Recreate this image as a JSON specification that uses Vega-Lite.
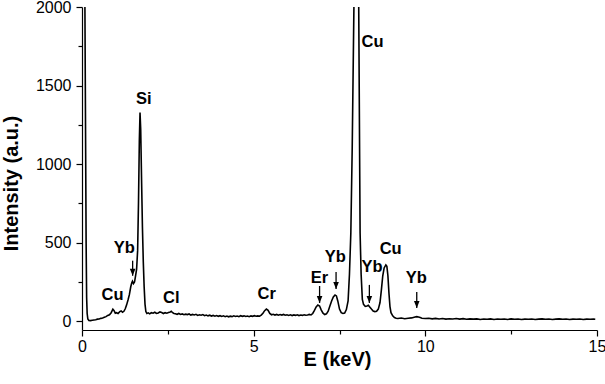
{
  "$schema": "https://vega.github.io/schema/vega-lite/v6.json",
  "width": 515,
  "height": 323,
  "autosize": "none",
  "padding": {"left": 82, "top": 7, "right": 8, "bottom": 54},
  "config": {
    "view": {"stroke": null},
    "font": "Liberation Sans",
    "axis": {"grid": false, "domainColor": "black", "domainWidth": 1.2, "tickColor": "black", "tickWidth": 1.2, "labelColor": "black", "titleColor": "black", "labelFont": "Liberation Sans", "titleFont": "Liberation Sans"}
  },
  "datasets": {
    "spectrum": [
      {"E": 0.03, "I": 9000}, {"E": 0.085, "I": 2000}, {"E": 0.12, "I": 500}, {"E": 0.135, "I": 150}, {"E": 0.15, "I": 50}, {"E": 0.17, "I": 15},
      {"E": 0.2, "I": 6}, {"E": 0.25, "I": 5}, {"E": 0.3, "I": 7}, {"E": 0.35, "I": 9}, {"E": 0.4, "I": 10}, {"E": 0.45, "I": 14},
      {"E": 0.5, "I": 15}, {"E": 0.55, "I": 19}, {"E": 0.6, "I": 22}, {"E": 0.65, "I": 26}, {"E": 0.7, "I": 30}, {"E": 0.75, "I": 38},
      {"E": 0.8, "I": 42}, {"E": 0.85, "I": 55}, {"E": 0.9, "I": 77}, {"E": 0.93, "I": 70}, {"E": 0.97, "I": 52}, {"E": 1.0, "I": 55},
      {"E": 1.05, "I": 50}, {"E": 1.1, "I": 62}, {"E": 1.14, "I": 66}, {"E": 1.18, "I": 58}, {"E": 1.22, "I": 64}, {"E": 1.26, "I": 80},
      {"E": 1.3, "I": 105}, {"E": 1.34, "I": 136}, {"E": 1.38, "I": 170}, {"E": 1.42, "I": 220}, {"E": 1.45, "I": 245}, {"E": 1.47, "I": 255},
      {"E": 1.5, "I": 240}, {"E": 1.53, "I": 250}, {"E": 1.56, "I": 290}, {"E": 1.59, "I": 330}, {"E": 1.62, "I": 450}, {"E": 1.645, "I": 750},
      {"E": 1.67, "I": 1150}, {"E": 1.69, "I": 1328}, {"E": 1.71, "I": 1220}, {"E": 1.735, "I": 900}, {"E": 1.76, "I": 600}, {"E": 1.785, "I": 380},
      {"E": 1.81, "I": 220}, {"E": 1.835, "I": 110}, {"E": 1.86, "I": 62}, {"E": 1.89, "I": 50}, {"E": 1.93, "I": 54}, {"E": 1.97, "I": 48},
      {"E": 2.02, "I": 55}, {"E": 2.07, "I": 52}, {"E": 2.12, "I": 58}, {"E": 2.17, "I": 50}, {"E": 2.22, "I": 53}, {"E": 2.27, "I": 60},
      {"E": 2.32, "I": 56}, {"E": 2.37, "I": 50}, {"E": 2.42, "I": 55}, {"E": 2.47, "I": 52}, {"E": 2.52, "I": 56}, {"E": 2.57, "I": 60},
      {"E": 2.6, "I": 64}, {"E": 2.64, "I": 55}, {"E": 2.68, "I": 50}, {"E": 2.72, "I": 48}, {"E": 2.77, "I": 45}, {"E": 2.82, "I": 50},
      {"E": 2.87, "I": 44}, {"E": 2.92, "I": 47}, {"E": 2.97, "I": 42}, {"E": 3.02, "I": 46}, {"E": 3.07, "I": 43}, {"E": 3.12, "I": 47},
      {"E": 3.17, "I": 40}, {"E": 3.22, "I": 44}, {"E": 3.27, "I": 41}, {"E": 3.32, "I": 45}, {"E": 3.37, "I": 38}, {"E": 3.42, "I": 42},
      {"E": 3.47, "I": 39}, {"E": 3.52, "I": 43}, {"E": 3.57, "I": 36}, {"E": 3.62, "I": 40}, {"E": 3.67, "I": 35}, {"E": 3.72, "I": 39},
      {"E": 3.77, "I": 34}, {"E": 3.82, "I": 38}, {"E": 3.87, "I": 33}, {"E": 3.92, "I": 37}, {"E": 3.97, "I": 32}, {"E": 4.02, "I": 36},
      {"E": 4.07, "I": 31}, {"E": 4.12, "I": 35}, {"E": 4.17, "I": 30}, {"E": 4.22, "I": 34}, {"E": 4.27, "I": 29}, {"E": 4.32, "I": 33},
      {"E": 4.37, "I": 30}, {"E": 4.42, "I": 35}, {"E": 4.47, "I": 31}, {"E": 4.52, "I": 34}, {"E": 4.57, "I": 30}, {"E": 4.62, "I": 36},
      {"E": 4.67, "I": 32}, {"E": 4.72, "I": 35}, {"E": 4.77, "I": 31}, {"E": 4.82, "I": 34}, {"E": 4.87, "I": 30}, {"E": 4.92, "I": 35},
      {"E": 4.97, "I": 32}, {"E": 5.02, "I": 36}, {"E": 5.07, "I": 33}, {"E": 5.12, "I": 35}, {"E": 5.17, "I": 33}, {"E": 5.22, "I": 40},
      {"E": 5.27, "I": 52}, {"E": 5.32, "I": 68}, {"E": 5.37, "I": 78}, {"E": 5.42, "I": 70}, {"E": 5.47, "I": 50}, {"E": 5.52, "I": 42},
      {"E": 5.57, "I": 45}, {"E": 5.62, "I": 40}, {"E": 5.67, "I": 44}, {"E": 5.72, "I": 39}, {"E": 5.77, "I": 43}, {"E": 5.82, "I": 40},
      {"E": 5.87, "I": 44}, {"E": 5.92, "I": 39}, {"E": 5.97, "I": 42}, {"E": 6.02, "I": 38}, {"E": 6.07, "I": 42}, {"E": 6.12, "I": 37},
      {"E": 6.17, "I": 41}, {"E": 6.22, "I": 38}, {"E": 6.27, "I": 42}, {"E": 6.32, "I": 37}, {"E": 6.37, "I": 40}, {"E": 6.42, "I": 38},
      {"E": 6.47, "I": 42}, {"E": 6.52, "I": 39}, {"E": 6.57, "I": 40}, {"E": 6.62, "I": 44}, {"E": 6.67, "I": 41}, {"E": 6.72, "I": 50},
      {"E": 6.77, "I": 70}, {"E": 6.82, "I": 92}, {"E": 6.87, "I": 104}, {"E": 6.92, "I": 98}, {"E": 6.97, "I": 72}, {"E": 7.02, "I": 52},
      {"E": 7.07, "I": 43}, {"E": 7.12, "I": 48}, {"E": 7.17, "I": 65}, {"E": 7.22, "I": 98}, {"E": 7.27, "I": 130}, {"E": 7.32, "I": 155},
      {"E": 7.37, "I": 168}, {"E": 7.41, "I": 162}, {"E": 7.45, "I": 130}, {"E": 7.5, "I": 78}, {"E": 7.55, "I": 55}, {"E": 7.6, "I": 50},
      {"E": 7.65, "I": 53}, {"E": 7.7, "I": 75}, {"E": 7.75, "I": 130}, {"E": 7.79, "I": 300}, {"E": 7.83, "I": 562}, {"E": 7.87, "I": 1100},
      {"E": 7.92, "I": 2000}, {"E": 7.94, "I": 9000}, {"E": 8.04, "I": 9000}, {"E": 8.06, "I": 2000}, {"E": 8.1, "I": 562}, {"E": 8.13, "I": 300},
      {"E": 8.165, "I": 140}, {"E": 8.2, "I": 108}, {"E": 8.25, "I": 95}, {"E": 8.3, "I": 98}, {"E": 8.34, "I": 102}, {"E": 8.38, "I": 92},
      {"E": 8.43, "I": 78}, {"E": 8.48, "I": 66}, {"E": 8.53, "I": 62}, {"E": 8.58, "I": 64}, {"E": 8.63, "I": 78}, {"E": 8.68, "I": 120},
      {"E": 8.72, "I": 200}, {"E": 8.76, "I": 290}, {"E": 8.8, "I": 340}, {"E": 8.85, "I": 359}, {"E": 8.88, "I": 350}, {"E": 8.91, "I": 290},
      {"E": 8.94, "I": 180}, {"E": 8.97, "I": 94}, {"E": 9.0, "I": 55}, {"E": 9.05, "I": 35}, {"E": 9.1, "I": 24}, {"E": 9.15, "I": 20},
      {"E": 9.2, "I": 18}, {"E": 9.3, "I": 21}, {"E": 9.4, "I": 17}, {"E": 9.5, "I": 20}, {"E": 9.6, "I": 22}, {"E": 9.65, "I": 25},
      {"E": 9.7, "I": 28}, {"E": 9.75, "I": 30}, {"E": 9.8, "I": 28}, {"E": 9.85, "I": 24}, {"E": 9.9, "I": 20}, {"E": 10.0, "I": 18},
      {"E": 10.1, "I": 20}, {"E": 10.2, "I": 16}, {"E": 10.3, "I": 19}, {"E": 10.4, "I": 15}, {"E": 10.5, "I": 18}, {"E": 10.6, "I": 14},
      {"E": 10.7, "I": 17}, {"E": 10.8, "I": 15}, {"E": 10.9, "I": 18}, {"E": 11.0, "I": 14}, {"E": 11.1, "I": 17}, {"E": 11.2, "I": 13},
      {"E": 11.3, "I": 16}, {"E": 11.4, "I": 14}, {"E": 11.5, "I": 16}, {"E": 11.6, "I": 12}, {"E": 11.7, "I": 15}, {"E": 11.8, "I": 13},
      {"E": 11.9, "I": 16}, {"E": 12.0, "I": 12}, {"E": 12.1, "I": 15}, {"E": 12.2, "I": 13}, {"E": 12.3, "I": 15}, {"E": 12.4, "I": 12},
      {"E": 12.5, "I": 16}, {"E": 12.6, "I": 13}, {"E": 12.7, "I": 15}, {"E": 12.8, "I": 12}, {"E": 12.9, "I": 14}, {"E": 13.0, "I": 13},
      {"E": 13.1, "I": 15}, {"E": 13.2, "I": 12}, {"E": 13.3, "I": 14}, {"E": 13.4, "I": 16}, {"E": 13.5, "I": 13}, {"E": 13.6, "I": 15},
      {"E": 13.7, "I": 12}, {"E": 13.8, "I": 14}, {"E": 13.9, "I": 16}, {"E": 14.0, "I": 13}, {"E": 14.1, "I": 15}, {"E": 14.2, "I": 12},
      {"E": 14.3, "I": 14}, {"E": 14.4, "I": 13}, {"E": 14.5, "I": 15}, {"E": 14.6, "I": 12}, {"E": 14.7, "I": 14}, {"E": 14.8, "I": 13},
      {"E": 14.9, "I": 14}, {"E": 14.95, "I": 13}
    ],
    "arrows": [
      {"E": 1.475, "I": 386, "I2": 290},
      {"E": 6.92, "I": 225, "I2": 117},
      {"E": 7.40, "I": 314, "I2": 206},
      {"E": 8.37, "I": 232, "I2": 117},
      {"E": 9.75, "I": 187, "I2": 85}
    ],
    "labels": [
      {"E": 0.89, "I": 168, "label": "Cu"},
      {"E": 1.23, "I": 465, "label": "Yb"},
      {"E": 1.80, "I": 1413, "label": "Si"},
      {"E": 2.60, "I": 147, "label": "Cl"},
      {"E": 5.38, "I": 174, "label": "Cr"},
      {"E": 6.92, "I": 278, "label": "Er"},
      {"E": 7.38, "I": 408, "label": "Yb"},
      {"E": 8.46, "I": 1779, "label": "Cu"},
      {"E": 8.45, "I": 348, "label": "Yb"},
      {"E": 8.99, "I": 458, "label": "Cu"},
      {"E": 9.74, "I": 278, "label": "Yb"}
    ]
  },
  "layer": [
    {
      "data": {"name": "spectrum"},
      "mark": {"type": "line", "color": "black", "strokeWidth": 1.6, "clip": true},
      "encoding": {
        "x": {
          "field": "E", "type": "quantitative",
          "scale": {"domain": [0, 15], "nice": false, "zero": false},
          "axis": {
            "title": "E (keV)", "titleFontSize": 20, "titleFontWeight": "bold",
            "titleX": 255, "titleY": 29, "titleBaseline": "middle", "titleAlign": "center",
            "values": [0, 2.5, 5, 7.5, 10, 12.5, 15],
            "labelExpr": "datum.value % 5 === 0 ? format(datum.value, 'd') : ''",
            "labelFontSize": 16, "labelPadding": 2, "labelFlush": false, "labelOverlap": false,
            "tickSize": {"condition": {"test": "datum.value % 5 === 0", "value": 6}, "value": 4}
          }
        },
        "y": {
          "field": "I", "type": "quantitative",
          "scale": {"domain": [-55, 2000], "nice": false, "zero": false},
          "axis": {
            "title": "Intensity (a.u.)", "titleFontSize": 20, "titleFontWeight": "bold",
            "titleX": -71, "titleY": 176, "titleAngle": -90, "titleBaseline": "middle", "titleAlign": "center",
            "values": [0, 250, 500, 750, 1000, 1250, 1500, 1750, 2000],
            "labelExpr": "datum.value % 500 === 0 ? format(datum.value, 'd') : ''",
            "labelFontSize": 16, "labelPadding": 5, "labelFlush": false, "labelOverlap": false,
            "tickSize": {"condition": {"test": "datum.value % 500 === 0", "value": 6}, "value": 4}
          }
        }
      }
    },
    {
      "data": {"name": "arrows"},
      "mark": {"type": "rule", "color": "black", "strokeWidth": 1.3},
      "encoding": {
        "x": {"field": "E", "type": "quantitative"},
        "y": {"field": "I", "type": "quantitative"},
        "y2": {"field": "I2"}
      }
    },
    {
      "data": {"name": "arrows"},
      "mark": {"type": "point", "shape": "M-0.8,-2L0.8,-2L0,0Z", "filled": true, "color": "black", "opacity": 1, "size": 49, "strokeWidth": 0},
      "encoding": {
        "x": {"field": "E", "type": "quantitative"},
        "y": {"field": "I2", "type": "quantitative"}
      }
    },
    {
      "data": {"name": "labels"},
      "mark": {"type": "text", "fontSize": 16.5, "fontWeight": "bold", "color": "black", "align": "center", "baseline": "middle"},
      "encoding": {
        "x": {"field": "E", "type": "quantitative"},
        "y": {"field": "I", "type": "quantitative"},
        "text": {"field": "label"}
      }
    }
  ]
}
